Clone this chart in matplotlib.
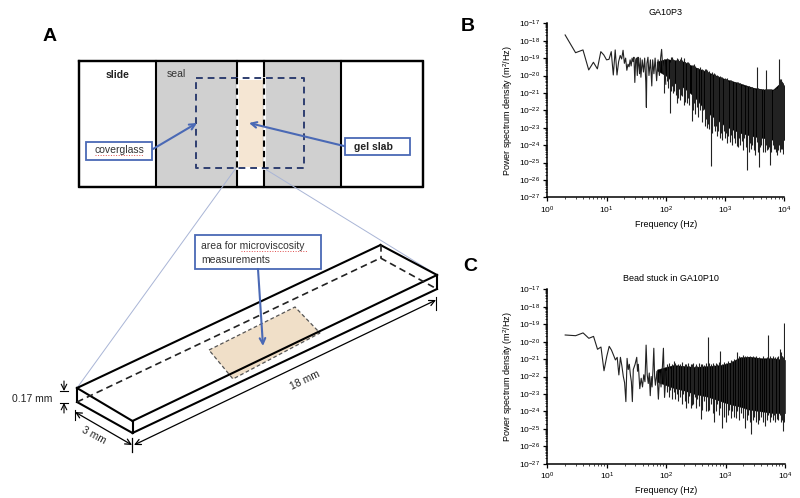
import numpy as np
import matplotlib
matplotlib.use('Agg')
import matplotlib.pyplot as plt
from matplotlib.patches import Rectangle, Polygon
from matplotlib.ticker import LogLocator, NullFormatter

plt.rcParams['font.family'] = ['Liberation Sans', 'DejaVu Sans']
plt.rcParams['mathtext.fontset'] = 'custom'
plt.rcParams['mathtext.rm'] = 'Liberation Sans'
plt.rcParams['mathtext.default'] = 'regular'

W, H = 800, 498

# panel B, values (log10 of PSD)
b_f = [2, 3, 4, 5, 6, 7, 8, 9, 10, 11, 12, 13, 14, 15, 16, 17, 18, 19, 20, 21, 22, 23, 24, 25, 26, 27, 28, 29, 30, 31,
       32, 33, 34, 35, 36, 37, 38, 40, 42, 44, 46, 47, 48, 50, 52, 55, 58, 60, 63, 66, 70, 74, 78, 82, 85, 90, 95, 100]
b_p = [-17.67, -18.69, -18.53, -19.68, -19.24, -19.62, -18.63, -18.82, -19.1, -19.07, -18.63, -19.97, -18.53, -19.97,
       -19.2, -18.85, -19.05, -18.55, -19.3, -19.0, -19.7, -19.35, -19.5, -19.1, -19.45, -19.0, -19.2, -18.95, -20.4,
       -19.1, -19.0, -20.0, -18.95, -19.4, -19.9, -19.0, -20.1, -19.1, -19.8, -19.0, -20.4, -21.83, -19.3, -18.95,
       -20.0, -19.1, -20.6, -19.1, -19.9, -19.0, -20.3, -19.1, -20.0, -18.95, -18.5, -19.9, -19.1, -20.5]
b_band_f = [70, 100, 134, 200, 300, 490, 700, 1000, 1780, 3000, 4500, 6500, 8100, 8500, 10000]
b_band_hi = [-19.2, -19.05, -19.11, -19.2, -19.5, -19.78, -20.0, -20.2, -20.45, -20.7, -20.8, -20.8, -20.5, -20.2, -20.6]
b_band_lo = [-19.7, -20.0, -20.4, -20.7, -21.2, -22.1, -22.5, -22.9, -23.3, -23.5, -23.6, -23.7, -23.7, -23.7, -23.7]
b_spike_f = [93, 105, 118, 128, 140, 153, 168, 182, 199, 215,
             235, 274, 300, 332, 380, 430, 470, 520, 572, 640,
             700, 770, 855, 950, 1050, 1130, 1250, 1400, 1580, 1750,
             1900, 2100, 2370, 2650, 2900, 3200, 3420, 3790, 4100, 4420,
             4900, 5300, 5730, 6400, 7000, 7440, 8100, 8700, 9200, 9660,
             110, 124, 134, 146, 160, 175, 190, 207, 225, 250,
             287, 316, 355, 405, 450, 495, 545, 605, 670, 735,
             810, 900, 1000, 1090, 1190, 1320, 1490, 1660, 1820, 2000,
             2240, 2500, 2780, 3050, 3600, 3950, 4650, 5100, 5500, 6000,
             6700, 7200, 7800, 8400, 8900, 9400, 9900]
b_spike_lo = [-21.02, -20.3, -22.17, -20.6, -20.9, -21.6, -20.8, -21.1, -21.7, -21.0,
              -21.3, -22.6, -21.6, -21.8, -22.0, -21.98, -22.5, -22.8, -25.2, -22.9,
              -22.9, -23.2, -23.3, -23.2, -23.3, -23.48, -23.4, -23.6, -24.05, -23.6,
              -23.75, -23.6, -25.43, -23.9, -24.0, -24.57, -23.8, -25.24, -24.0, -24.38,
              -24.0, -24.2, -25.14, -24.0, -24.2, -24.57, -24.0, -24.1, -24.2, -24.28,
              -20.7, -20.9, -21.0, -21.1, -21.3, -21.4, -21.2, -21.5, -21.6, -21.7,
              -22.0, -22.2, -22.4, -22.7, -22.9, -23.0, -23.1, -23.3, -23.2, -23.5,
              -23.6, -23.7, -23.6, -23.9, -23.8, -24.0, -23.9, -24.1, -24.0, -24.3,
              -24.1, -24.4, -24.2, -24.3, -24.4, -24.1, -24.4, -24.3, -24.1, -24.4,
              -24.2, -24.4, -24.3, -24.4, -24.2, -24.5, -24.3]
b_spike_hi = [-19.3, -19.0, -19.2, -18.95, -19.1, -19.0, -19.15, -18.95, -19.0, -19.2,
              -19.25, -19.4, -19.35, -19.55, -19.5, -19.7, -19.65, -19.8, -19.9, -19.85,
              -20.0, -20.05, -20.1, -20.2, -20.2, -20.3, -20.25, -20.4, -20.4, -20.5,
              -20.55, -20.6, -20.6, -20.7, -20.65, -20.75, -19.5, -20.75, -20.8, -20.75,
              -19.7, -20.8, -20.8, -20.85, -20.8, -20.7, -19.07, -20.2, -20.4, -20.5,
              -19.05, -18.95, -19.05, -19.1, -19.05, -19.05, -19.1, -19.2, -19.2, -19.3,
              -19.4, -19.45, -19.55, -19.6, -19.65, -19.7, -19.75, -19.8, -19.9, -19.95,
              -20.05, -20.1, -20.15, -20.15, -20.25, -20.3, -20.35, -20.4, -20.45, -20.55,
              -20.6, -20.6, -20.65, -20.7, -20.7, -20.75, -20.75, -20.8, -20.75, -20.8,
              -20.75, -20.7, -20.6, -20.3, -20.35, -20.45, -20.55]

# panel C
c_f = [2, 3, 4, 5, 6, 7, 8, 9, 10, 11, 12, 13, 14, 15, 16, 17, 18, 19, 20, 21, 22, 23, 24, 25, 26, 27, 28, 30, 32, 33,
       34, 35, 36, 38, 40, 42, 44, 46, 48, 50, 52, 54, 56, 58, 60, 62, 64, 66, 70, 74, 78, 82, 86, 90, 94, 100]
c_p = [-19.62, -19.66, -19.5, -19.81, -19.7, -20.44, -20.31, -21.67, -20.86, -20.27, -20.48, -20.77, -21.05, -20.9,
       -21.91, -20.9, -21.4, -21.99, -22.36, -23.44, -20.96, -21.6, -21.3, -21.9, -22.3, -23.44, -21.6, -21.3, -20.9,
       -21.7, -21.3, -22.0, -22.7, -22.1, -22.6, -21.9, -22.3, -20.2, -21.9, -22.4, -21.8, -23.1, -22.0, -22.6, -21.6,
       -20.38, -22.0, -22.5, -21.7, -23.3, -21.8, -22.6, -21.6, -20.38, -23.2, -21.7]
c_band_f = [70, 100, 134, 200, 300, 500, 800, 1200, 1740, 2500, 4000, 6300, 10000]
c_band_hi = [-21.6, -21.45, -21.34, -21.4, -21.45, -21.4, -21.35, -21.2, -20.9, -20.86, -20.95, -20.95, -21.05]
c_band_lo = [-22.3, -22.5, -22.66, -22.8, -23.0, -23.16, -23.4, -23.6, -23.73, -23.9, -24.0, -24.1, -24.1]
c_spike_f = [105, 118, 135, 150, 170, 195, 219, 245, 270, 300,
             335, 380, 430, 500, 560, 650, 720, 810, 870, 1000,
             1150, 1300, 1480, 1580, 1800, 2130, 2400, 2690, 3000, 3470,
             4000, 4680, 5250, 5900, 6500, 7240, 8100, 8800, 9330, 9800,
             110, 125, 142, 160, 182, 207, 232, 257, 285, 318,
             355, 405, 465, 530, 605, 685, 765, 930, 1080, 1220,
             1390, 1690, 1950, 2260, 2550, 2850, 3200, 3700, 4300, 4950,
             5550, 6200, 6850, 7650, 8450, 9050, 9600]
c_spike_lo = [-22.9, -22.8, -22.9, -23.0, -23.2, -23.0, -23.8, -23.1, -23.65, -23.2,
              -23.3, -24.45, -23.4, -24.0, -23.6, -24.6, -23.6, -23.8, -24.96, -24.6,
              -23.9, -24.0, -24.4, -24.0, -24.1, -24.93, -24.2, -25.3, -24.3, -24.75,
              -24.3, -24.85, -24.2, -24.3, -24.2, -24.45, -24.2, -24.2, -25.1, -24.45,
              -23.2, -23.3, -23.3, -23.4, -23.6, -23.4, -23.5, -23.8, -23.6, -23.8,
              -23.7, -23.9, -24.0, -23.9, -24.1, -24.0, -24.2, -24.3, -24.2, -24.4,
              -24.3, -24.5, -24.4, -24.5, -24.6, -24.5, -24.6, -24.5, -24.6, -24.5,
              -24.6, -24.5, -24.6, -24.5, -24.6, -24.5, -24.6]
c_spike_hi = [-21.3, -21.5, -21.1, -21.4, -21.3, -21.4, -21.3, -21.4, -21.3, -21.4,
              -21.4, -21.3, -21.35, -19.72, -21.3, -21.35, -21.3, -20.52, -21.3, -21.25,
              -21.2, -21.1, -21.05, -20.6, -20.9, -20.85, -20.9, -20.9, -20.95, -20.95,
              -21.0, -21.0, -19.62, -20.95, -21.0, -20.9, -20.4, -20.8, -20.9, -18.92,
              -21.2, -21.3, -21.2, -21.3, -21.15, -21.3, -21.2, -21.3, -21.2, -21.3,
              -21.2, -21.3, -21.2, -21.25, -21.2, -21.25, -21.15, -21.15, -21.1, -21.05,
              -21.0, -20.8, -20.75, -20.8, -20.8, -20.85, -20.85, -20.9, -20.85, -20.9,
              -20.85, -20.85, -20.9, -20.8, -20.6, -20.8, -20.9]

x_ticks = [1, 10, 100, 1000, 10000]
x_labels = ['10$^{0}$', '10$^{1}$', '10$^{2}$', '10$^{3}$', '10$^{4}$']
y_exps = list(range(-27, -16))

# schematic geometry, pixels from the picture
gray_rects = [(156, 236.5), (263.5, 340.5)]
dividers = [156, 236.5, 263.5, 340.5]
box_solid = [((77, 388), (380.5, 245)), ((77, 388), (132.5, 421)), ((132.5, 421), (437, 275)), ((380.5, 245), (437, 275)),
             ((437, 275), (437, 289)), ((132.5, 421), (132.5, 433)), ((132.5, 433), (437, 289)), ((77, 388), (77, 402)),
             ((77, 402), (132.5, 433))]
box_dashed = [((77, 402), (380.5, 258)), ((380.5, 258), (437, 289)), ((380.5, 245), (380.5, 258))]
area_poly = [(209, 350), (295, 307), (320, 333), (233, 379)]
guide_lines = [((236, 168), (77, 388)), ((263.5, 168), (437, 275))]

fig = plt.figure(figsize=(W / 100, H / 100), dpi=100)

# overlay for the drawing, in pixel coordinates
ov = fig.add_axes([0, 0, 1, 1])
ov.set_xlim(0, W)
ov.set_ylim(H, 0)
ov.axis('off')

blue = '#4a69b5'
navy = '#2f3f70'
ov.add_patch(Rectangle((79, 60.5), 344, 126, fc='white', ec='black', lw=1.6, zorder=3))
for x0, x1 in gray_rects:
    ov.add_patch(Rectangle((x0, 60.5), x1 - x0, 126, fc='#d0d0d0', ec='none', zorder=3))
ov.add_patch(Rectangle((237, 80), 26, 87, fc='#f5e6d3', ec='none', zorder=3))
for x in dividers:
    ov.plot([x, x], [60.5, 186.5], color='black', lw=1.5, zorder=4)
ov.plot([79, 423, 423, 79, 79], [60.5, 60.5, 186.5, 186.5, 60.5], color='black', lw=1.6, zorder=4)
for x in [236.5, 263.5]:
    ov.plot([x, x], [78, 168], color='white', lw=2, zorder=5)
    ov.plot([x, x], [78, 168], color='black', lw=1.5, ls=(0, (3, 2)), zorder=6)
ov.plot([196, 304, 304, 196, 196], [78, 78, 168, 168, 78], color=navy, lw=1.4, ls=(0, (3.5, 2.5)), zorder=5)

ov.text(118, 75, 'slide', fontsize=7.5, ha='center', va='center', zorder=7, fontweight='bold', color='#222222')
ov.text(176, 74, 'seal', fontsize=7.5, ha='center', va='center', zorder=7, color='#333333')
ov.add_patch(Rectangle((86, 141.5), 66, 18, fc='white', ec=blue, lw=1.3, zorder=7))
ov.text(119, 149.5, 'coverglass', fontsize=7.5, ha='center', va='center', zorder=8, color='#333333')
ov.plot([95, 143], [154.5, 154.5], color='#e05050', lw=0.7, ls=':', zorder=8)
ov.add_patch(Rectangle((345, 138), 65, 17, fc='white', ec=blue, lw=1.3, zorder=7))
ov.text(373, 147, 'gel slab', fontsize=7.5, ha='center', va='center', zorder=8, fontweight='bold', color='#222222')
for tail, tip in [((153, 149), (197, 123)), ((344, 146), (249, 123))]:
    ov.annotate('', xy=tip, xytext=tail, zorder=9,
                arrowprops=dict(arrowstyle='->', color=blue, lw=1.5, shrinkA=0, shrinkB=0))

for (x0, y0), (x1, y1) in guide_lines:
    ov.plot([x0, x1], [y0, y1], color='#a9b5d6', lw=0.7, zorder=4)

ov.add_patch(Polygon(area_poly, closed=True, fc='#f0dfc8', ec='#555555', lw=0.9, ls=(0, (3, 2)), zorder=3))
for (x0, y0), (x1, y1) in box_solid:
    ov.plot([x0, x1], [y0, y1], color='black', lw=1.5, zorder=4)
for (x0, y0), (x1, y1) in box_dashed:
    ov.plot([x0, x1], [y0, y1], color='#222222', lw=1.2, ls=(0, (4, 2.5)), zorder=4)

ov.add_patch(Rectangle((195, 235), 126, 34, fc='white', ec=blue, lw=1.3, zorder=7))
ov.text(201, 245.5, 'area for microviscosity', fontsize=7.5, va='center', zorder=8, color='#333333')
ov.text(201, 260, 'measurements', fontsize=7.5, va='center', zorder=8, color='#333333')
ov.plot([241, 307], [250.5, 250.5], color='#e05050', lw=0.7, ls=':', zorder=8)
ov.annotate('', xy=(263, 346), xytext=(258, 269), zorder=9,
            arrowprops=dict(arrowstyle='->', color=blue, lw=1.5, shrinkA=0, shrinkB=0))

# dimension marks
for tail, tip in [((64, 381), (64, 391)), ((64, 413), (64, 403))]:
    ov.annotate('', xy=tip, xytext=tail, arrowprops=dict(arrowstyle='->', color='black', lw=0.8, shrinkA=0, shrinkB=0))
for y in [391, 403]:
    ov.plot([60, 68], [y, y], color='black', lw=0.8)
ov.annotate('', xy=(75, 412), xytext=(132, 445), arrowprops=dict(arrowstyle='<->', color='black', lw=0.9, shrinkA=0, shrinkB=0))
ov.annotate('', xy=(134, 445), xytext=(436, 300), arrowprops=dict(arrowstyle='<->', color='black', lw=0.9, shrinkA=0, shrinkB=0))
ov.plot([75, 75], [410, 420], color='black', lw=0.8)
ov.plot([131.5, 131.5], [438, 452], color='black', lw=0.9)
ov.plot([436, 436], [297, 310], color='black', lw=0.8)
ov.text(12, 399, '0.17 mm', fontsize=7.5, va='center', color='#222222')
ov.text(93.5, 435, '3 mm', fontsize=7.5, ha='center', va='center', rotation=-28, color='#222222')
ov.text(305, 380, '18 mm', fontsize=7.5, ha='center', va='center', rotation=26, color='#222222')

ov.text(50, 36, 'A', fontsize=14, fontweight='bold', ha='center', va='center')
ov.text(468, 26, 'B', fontsize=14, fontweight='bold', ha='center', va='center')
ov.text(470, 266, 'C', fontsize=14, fontweight='bold', ha='center', va='center')


def spectrum(pos, title, title_x, f, p, band_f, band_hi, band_lo, sp_f, sp_lo, sp_hi):
    ax = fig.add_axes(pos)
    ax.patch.set_alpha(0)
    ax.set_xscale('log')
    ax.set_yscale('log')
    ax.plot(f, 10.0 ** np.array(p), color='#222222', lw=0.8)
    ax.fill_between(band_f, 10.0 ** np.array(band_lo), 10.0 ** np.array(band_hi), color='black', lw=0.3)
    ax.vlines(sp_f, 10.0 ** np.array(sp_lo), 10.0 ** np.array(sp_hi), color='#222222', lw=0.8)
    ax.set_xlim(1, 1e4)
    ax.set_ylim(1e-27, 1e-17)
    ax.set_xticks(x_ticks)
    ax.set_xticklabels(x_labels)
    ax.set_yticks([10.0 ** e for e in y_exps])
    ax.set_yticklabels(['10$^{\\mathrm{-}%d}$' % -e for e in y_exps])
    ax.tick_params(labelsize=6, length=3, width=0.9, pad=2)
    ax.xaxis.set_minor_locator(LogLocator(base=10, subs=range(2, 10), numticks=12))
    ax.xaxis.set_minor_formatter(NullFormatter())
    ax.yaxis.set_minor_locator(LogLocator(base=10, subs=range(2, 10), numticks=30))
    ax.yaxis.set_minor_formatter(NullFormatter())
    ax.tick_params(which='minor', length=1.5, width=0.5)
    for s in ['top', 'right']:
        ax.spines[s].set_visible(False)
    for s in ['left', 'bottom']:
        ax.spines[s].set_linewidth(1.1)
    ax.set_xlabel('Frequency (Hz)', fontsize=6.5, labelpad=3)
    ax.set_ylabel('Power spectrum density (m$^{2}$/Hz)', fontsize=6.5, labelpad=3)
    ax.set_title(title, fontsize=6.5, pad=6, x=title_x)
    return ax


spectrum([547.3 / W, 1 - 197.3 / H, 237 / W, 174 / H], 'GA10P3', 0.5,
         b_f, b_p, b_band_f, b_band_hi, b_band_lo, b_spike_f, b_spike_lo, b_spike_hi)
spectrum([547.3 / W, 1 - 463.7 / H, 237.7 / W, 174.4 / H], 'Bead stuck in GA10P10', 0.52,
         c_f, c_p, c_band_f, c_band_hi, c_band_lo, c_spike_f, c_spike_lo, c_spike_hi)

fig.savefig('out.png', dpi=100)
